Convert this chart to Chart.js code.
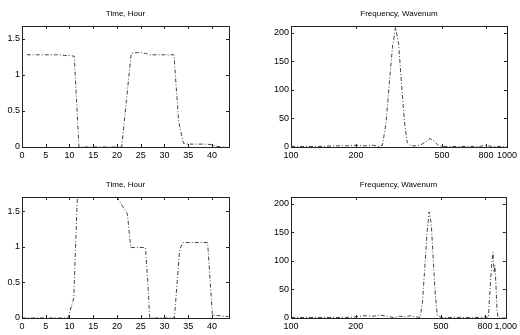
<!DOCTYPE html>
<html>
<head>
<meta charset="utf-8">
<script src="https://cdn.jsdelivr.net/npm/chart.js@4"></script>
<style>
  html, body { margin: 0; padding: 0; background: #fff; }
  #wrap { position: relative; width: 520px; height: 335px; }
  .cell { position: absolute; }
</style>
</head>
<body>
<div id="wrap">
  <div class="cell" style="left:0;top:0;width:240px;height:167px"><canvas id="c1"></canvas></div>
  <div class="cell" style="left:260px;top:0;width:260px;height:167px"><canvas id="c2"></canvas></div>
  <div class="cell" style="left:0;top:171px;width:240px;height:167px"><canvas id="c3"></canvas></div>
  <div class="cell" style="left:260px;top:171px;width:260px;height:167px"><canvas id="c4"></canvas></div>
</div>
<script>
// titles
const timeTitle = 'Time, Hour';
const freqTitle = 'Frequency, Wavenum';

// tick values / labels
const hourTicks = [0, 5, 10, 15, 20, 25, 30, 35, 40];
const flowTicks = [0, 0.5, 1, 1.5];
const flowTickLabels = ['0', '0.5', '1', '1.5'];
const freqTicks = [100, 200, 500, 800, 1000];
const freqTickLabelsTop = ['100', '200', '500', '800', '1000'];
const freqTickLabelsBottom = ['100', '200', '500', '800', '1,000'];
const ampTicks = [0, 50, 100, 150, 200];

// top left: flow vs time
const hoursA = [1, 2, 3, 4, 5, 6, 7, 8, 9, 10, 11, 12, 13, 14, 15, 16, 17, 18, 19, 20, 21, 22, 23, 24, 25, 26, 27, 28, 29, 30, 31, 32, 33, 34, 35, 36, 37, 38, 39, 40, 41, 42, 43];
const flowA = [1.28, 1.28, 1.28, 1.28, 1.28, 1.28, 1.28, 1.28, 1.27, 1.27, 1.26, 0, 0, 0, 0, 0, 0, 0, 0, 0, 0, 0.65, 1.30, 1.31, 1.31, 1.30, 1.28, 1.28, 1.28, 1.28, 1.28, 1.28, 0.35, 0.05, 0.04, 0.04, 0.04, 0.04, 0.04, 0.03, 0.01, 0, 0];

// top right: spectrum
const freqA = [100, 120, 140, 160, 180, 200, 220, 240, 255, 265, 275, 285, 295, 305, 315, 325, 335, 345, 360, 380, 400, 420, 440, 460, 480, 500, 550, 600, 650, 700, 750, 800, 850, 900, 950, 1000];
const ampA = [1, 1, 1, 2, 2, 3, 2, 3, 1, 3, 40, 110, 175, 210, 180, 110, 45, 8, 2, 2, 4, 9, 15, 10, 3, 1, 1, 1, 1, 1, 1, 3, 1, 1, 1, 0];

// bottom left: flow vs time
const hoursB = [0, 2, 4, 6, 8, 9.7, 10.9, 11.6, 12.2, 16, 20.0, 22.2, 22.9, 26.0, 26.5, 26.9, 29, 32.1, 33.2, 33.9, 36, 39.1, 40.1, 42, 43.5];
const flowB = [0, 0, 0, 0, 0, 0, 0.28, 1.6, 2.4, 2.5, 1.7, 1.46, 0.99, 0.99, 0.5, 0, 0, 0, 0.96, 1.06, 1.06, 1.06, 0.04, 0.03, 0.02];

// bottom right: spectrum
const freqB = [100, 120, 140, 160, 180, 200, 220, 240, 260, 280, 300, 320, 340, 360, 380, 400, 410, 420, 430, 440, 450, 460, 470, 480, 500, 550, 600, 650, 700, 750, 800, 830, 845, 860, 873, 882, 890, 900, 910, 920, 940, 970, 1000];
const ampB = [1, 1, 1, 1, 1, 2, 4, 3, 5, 3, 1, 3, 2, 4, 2, 1, 30, 90, 150, 186, 165, 100, 40, 5, 1, 1, 1, 1, 1, 1, 2, 1, 50, 95, 115, 80, 92, 60, 15, 1, 0, 0, 0];

const FONT = { family: "'Liberation Sans', Arial, sans-serif", size: 9 };

// MATLAB-like box with inward ticks
const boxPlugin = {
  id: 'boxTicks',
  afterDraw(chart) {
    const { ctx, chartArea: a, scales } = chart;
    ctx.save();
    ctx.strokeStyle = '#222';
    ctx.lineWidth = 1;
    ctx.strokeRect(Math.round(a.left) + 0.5, Math.round(a.top) + 0.5,
      Math.round(a.right - a.left), Math.round(a.bottom - a.top));
    ctx.beginPath();
    scales.x.ticks.forEach(t => {
      const px = Math.round(scales.x.getPixelForValue(t.value)) + 0.5;
      ctx.moveTo(px, a.bottom); ctx.lineTo(px, a.bottom - 3);
      ctx.moveTo(px, a.top); ctx.lineTo(px, a.top + 3);
    });
    scales.y.ticks.forEach(t => {
      const py = Math.round(scales.y.getPixelForValue(t.value)) + 0.5;
      ctx.moveTo(a.left, py); ctx.lineTo(a.left + 3, py);
      ctx.moveTo(a.right, py); ctx.lineTo(a.right - 3, py);
    });
    ctx.stroke();
    ctx.restore();
  }
};

function makeChart(id, opts) {
  const data = opts.xs.map((x, i) => ({ x, y: opts.ys[i] }));
  return new Chart(document.getElementById(id), {
    type: 'line',
    data: {
      datasets: [{
        data,
        borderColor: '#444',
        borderWidth: 1,
        borderDash: [4, 2, 1, 2],
        pointRadius: 0,
        tension: 0,
        fill: false,
      }],
    },
    options: {
      responsive: true,
      maintainAspectRatio: false,
      animation: false,
      layout: { padding: { left: 0, right: opts.padRight, top: 0, bottom: 0 } },
      plugins: {
        legend: { display: false },
        tooltip: { enabled: false },
        title: {
          display: true,
          text: opts.title,
          fullSize: false,
          color: '#000',
          font: { ...FONT, size: 8, weight: 'normal' },
          padding: { top: 9, bottom: 7.4 },
        },
      },
      scales: {
        x: {
          type: opts.xType,
          min: opts.xMin,
          max: opts.xMax,
          grid: { display: false, drawTicks: false },
          border: { display: false },
          ticks: {
            color: '#000',
            font: FONT,
            padding: 3,
            maxRotation: 0,
            autoSkip: false,
            callback: (v) => {
              const i = opts.xTicks.indexOf(v);
              return i >= 0 ? opts.xLabels[i] : '';
            },
          },
          afterBuildTicks: (s) => { s.ticks = opts.xTicks.map(v => ({ value: v })); },
          afterFit: (s) => { s.height = 20; },
        },
        y: {
          min: opts.yMin,
          max: opts.yMax,
          grid: { display: false, drawTicks: false },
          border: { display: false },
          ticks: {
            color: '#000',
            font: FONT,
            padding: 2,
            autoSkip: false,
            callback: (v) => {
              const i = opts.yTicks.indexOf(v);
              return i >= 0 ? opts.yLabels[i] : '';
            },
          },
          afterBuildTicks: (s) => { s.ticks = opts.yTicks.map(v => ({ value: v })); },
          afterFit: (s) => { s.width = opts.yWidth; },
        },
      },
    },
    plugins: [boxPlugin],
  });
}

makeChart('c1', {
  title: timeTitle, xs: hoursA, ys: flowA, xType: 'linear', xMin: 0, xMax: 43.6,
  xTicks: hourTicks, xLabels: hourTicks.map(String),
  yMin: 0, yMax: 1.68, yTicks: flowTicks, yLabels: flowTickLabels,
  yWidth: 22, padRight: 11,
});
makeChart('c2', {
  title: freqTitle, xs: freqA, ys: ampA, xType: 'logarithmic', xMin: 100, xMax: 1000,
  xTicks: freqTicks, xLabels: freqTickLabelsTop,
  yMin: 0, yMax: 212, yTicks: ampTicks, yLabels: ampTicks.map(String),
  yWidth: 31, padRight: 13,
});
makeChart('c3', {
  title: timeTitle, xs: hoursB, ys: flowB, xType: 'linear', xMin: 0, xMax: 43.6,
  xTicks: hourTicks, xLabels: hourTicks.map(String),
  yMin: 0, yMax: 1.7, yTicks: flowTicks, yLabels: flowTickLabels,
  yWidth: 22, padRight: 11,
});
makeChart('c4', {
  title: freqTitle, xs: freqB, ys: ampB, xType: 'logarithmic', xMin: 100, xMax: 1000,
  xTicks: freqTicks, xLabels: freqTickLabelsBottom,
  yMin: 0, yMax: 212, yTicks: ampTicks, yLabels: ampTicks.map(String),
  yWidth: 31, padRight: 13,
});
</script>
</body>
</html>
